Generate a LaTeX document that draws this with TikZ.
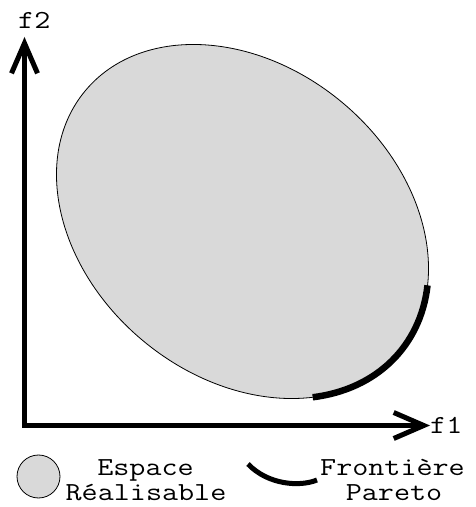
\documentclass[tikz,border=0pt]{standalone}
\usepackage{fontspec}
\usetikzlibrary{arrows.meta}
\definecolor{feasible}{RGB}{217,217,217}
\newcommand{\wideText}[1]{\scalebox{1.2}[1]{#1}}
\tikzset{
  axis/.style={line width=5pt, line join=miter,
    {Straight Barb[length=30pt,width=26pt,line join=miter,line cap=butt]}-{Straight Barb[length=30pt,width=26pt,line join=miter,line cap=butt]}},
  region/.style={fill=feasible, draw=black, line width=0.8pt},
  pareto/.style={line width=6.5pt, line cap=butt},
  label/.style={font=\ttfamily\fontsize{26}{26}\selectfont, inner sep=0pt, text height=16pt, text depth=0pt},
}
\begin{document}
\begin{tikzpicture}[x=1pt,y=1pt]
\useasboundingbox (0,0) rectangle (475,507);
% feasible region
\begin{scope}[shift={(242.5,285.5)}, rotate=-39.7]
  \coordinate (c) at (0,0);
  \path[region] (c) ellipse [x radius=204.5, y radius=155.3];
  \coordinate (p1) at (-35.6:204.5 and 155.3);
  \draw[pareto] (p1) arc[start angle=-35.6, end angle=26.4, x radius=204.5, y radius=155.3];
\end{scope}
% axes
\coordinate (ytip) at (24.5,470);
\coordinate (origin) at (24.5,81.5);
\coordinate (xtip) at (430,81.5);
\draw[axis] (ytip) -- (origin) -- (xtip);
\node[label, anchor=base west] (f2) at (18,478) {\wideText{f2}};
\node[label, anchor=base west] (f1) at (430,74) {\wideText{f1}};
% legend
\node[circle, region, minimum size=43pt, inner sep=0pt] (legcirc) at (38.5,30.5) {};
\node[label, anchor=base] (esp1) at (145.5,31) {\wideText{Espace}};
\node[label, anchor=base] (esp2) at (146,6) {\wideText{Réalisable}};
\coordinate (la) at (248,43);
\coordinate (lb) at (317,27);
\draw[line width=5pt, line cap=butt] (la) .. controls (268,22) and (300,20) .. (lb);
\node[label, anchor=base] (fr1) at (392.5,31) {\wideText{Frontière}};
\node[label, anchor=base] (fr2) at (394,6) {\wideText{Pareto}};
\end{tikzpicture}
\end{document}
